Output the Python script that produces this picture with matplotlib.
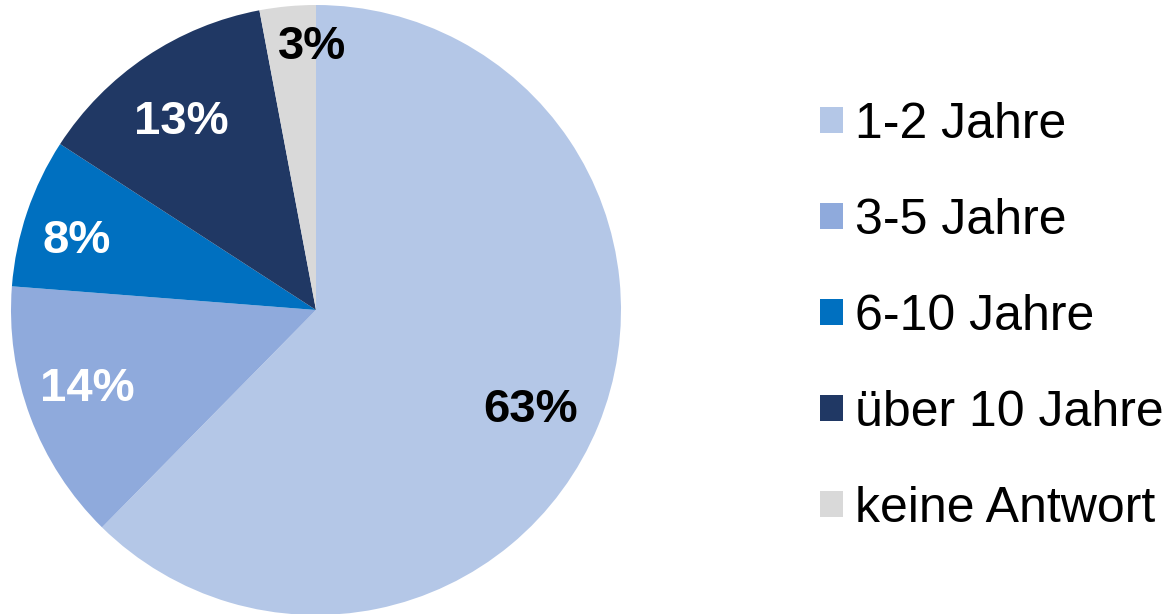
import matplotlib
matplotlib.use("Agg")
import matplotlib.pyplot as plt
import numpy as np

categories = ["1-2 Jahre", "3-5 Jahre", "6-10 Jahre", "über 10 Jahre", "keine Antwort"]
values = [63, 14, 8, 13, 3]
labels = ["63%", "14%", "8%", "13%", "3%"]
colors = ["#B4C7E7", "#8FAADC", "#0070C0", "#203864", "#D9D9D9"]
label_colors = ["black", "white", "white", "white", "black"]
label_radius = [0.77, 0.79, 0.82, 0.77, 0.88]
label_angle_shift = [-1.5, -2.5, 1.5, 1.0, -4.5]

plt.rcParams['font.family'] = ['Liberation Sans', 'DejaVu Sans']

fig = plt.figure(figsize=(11.68, 6.14), dpi=100)
W, H = 1168, 614
cx, cy, r = 316, 310, 305
ax = fig.add_axes([(cx - r) / W, (H - cy - r) / H, 2 * r / W, 2 * r / H])
wedges, texts = ax.pie(values, colors=colors, startangle=90, counterclock=False,
                       labels=labels, labeldistance=0.77,
                       textprops=dict(fontsize=34, fontweight='bold'),
                       wedgeprops=dict(linewidth=0))
for w, t, c, rd, sh in zip(wedges, texts, label_colors, label_radius, label_angle_shift):
    mid = np.deg2rad((w.theta1 + w.theta2) / 2 + sh)
    t.set_position((rd * np.cos(mid), rd * np.sin(mid)))
    t.set_color(c)
    t.set_ha('center')
    t.set_va('center_baseline')
ax.set_xlim(-1, 1)
ax.set_ylim(-1, 1)
ax.set_aspect('equal')

fig.legend(wedges, categories, loc='center left', bbox_to_anchor=(820 / W, 0.484),
           frameon=False, fontsize=36, handlelength=0.45, handleheight=0.45,
           handletextpad=0.25, labelspacing=1.0, borderpad=0, borderaxespad=0)

fig.savefig("out.png", dpi=100)
